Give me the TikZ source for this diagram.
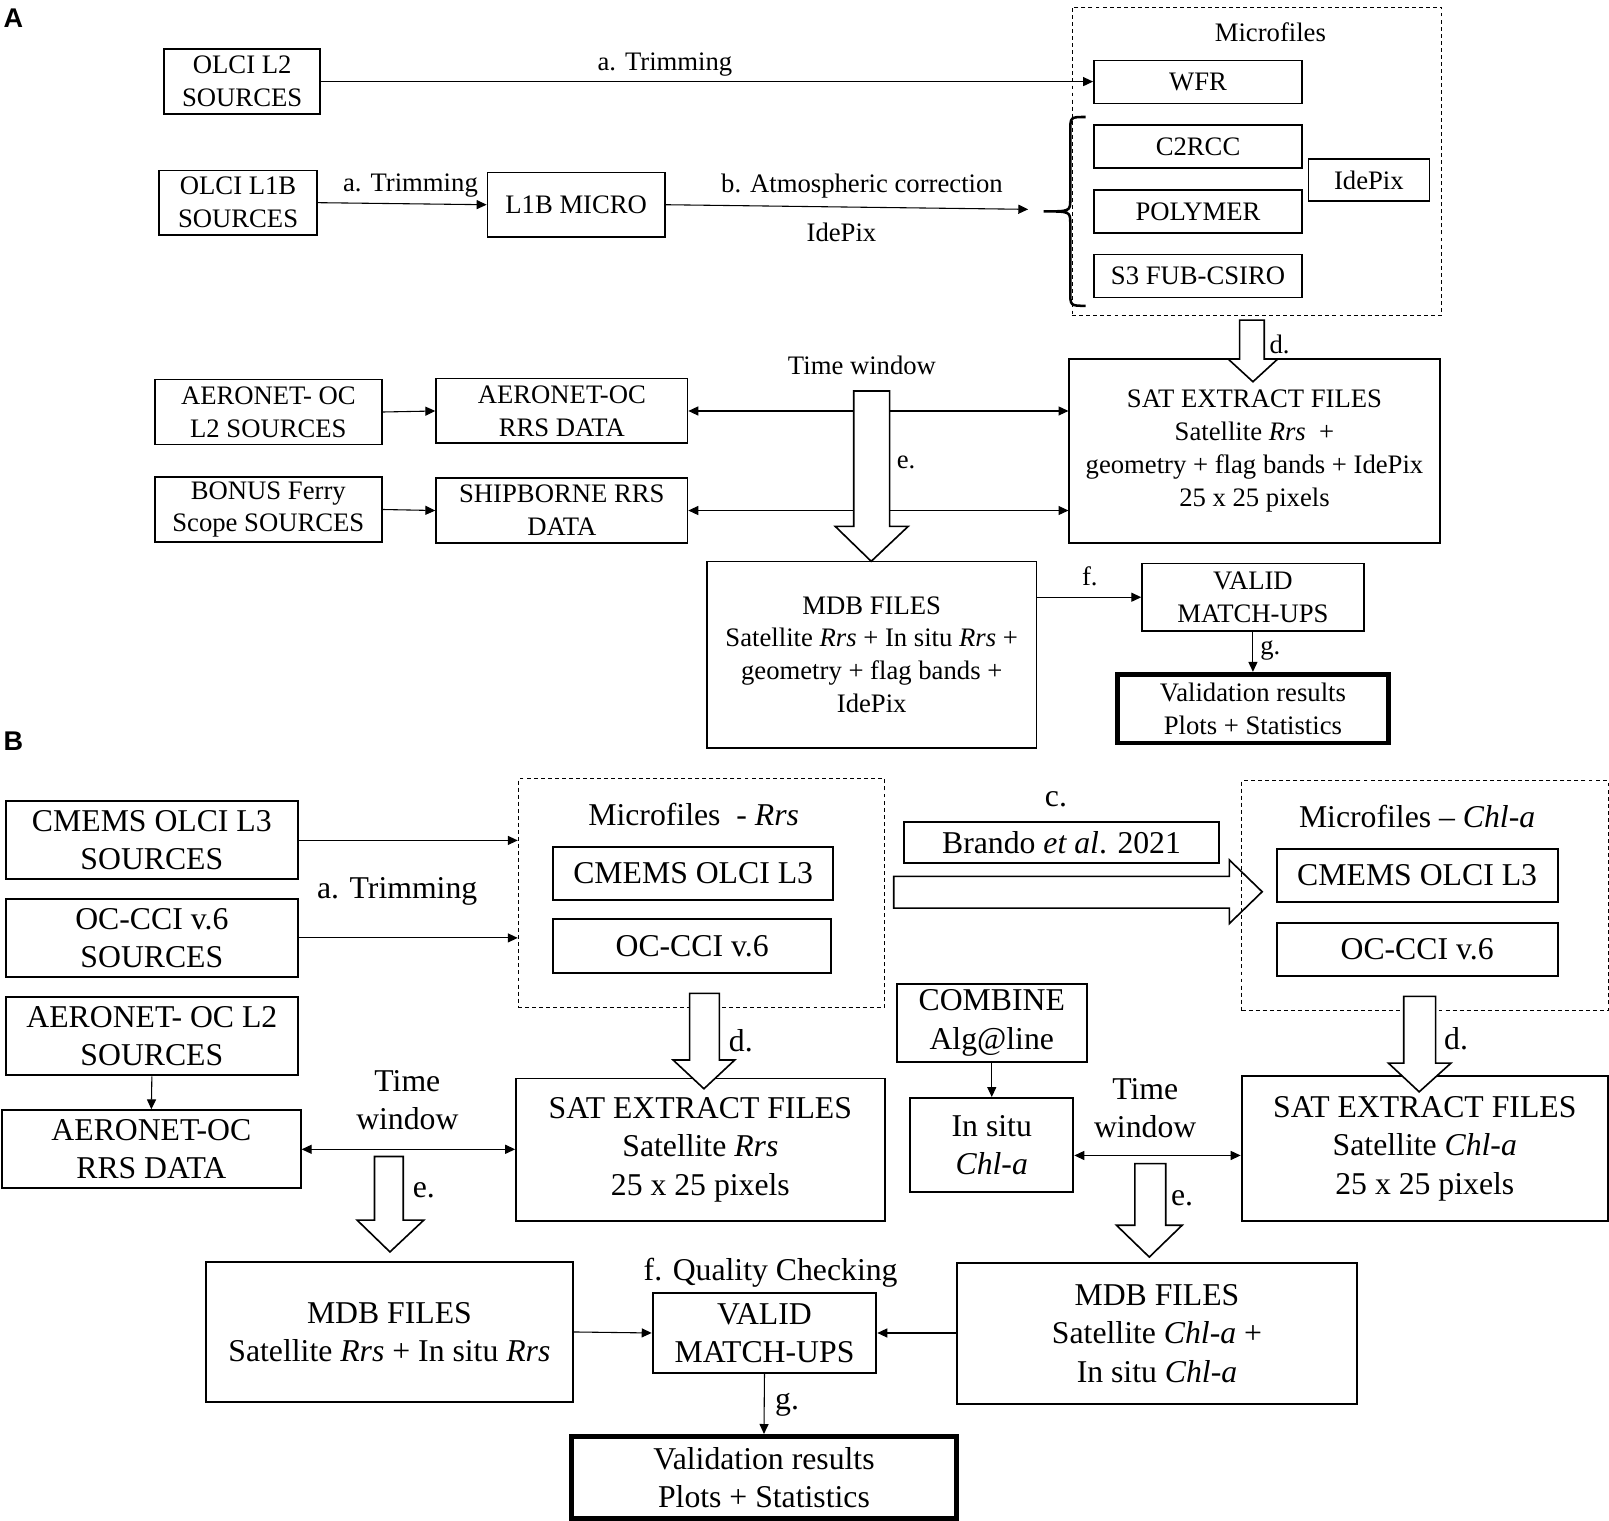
\documentclass[tikz,border=0pt]{standalone}
\usepackage{fontspec}
\setmainfont{Liberation Serif}
\newfontfamily\labfont{Liberation Sans}
\usetikzlibrary{arrows.meta}
\newcommand{\szA}{\fontsize{14.8}{18.2}\selectfont}
\newcommand{\szB}{\fontsize{17.6}{21.3}\selectfont}
\tikzset{
 boxA/.style={draw, line width=0.9pt, inner sep=0pt, align=center, font=\szA},
 boxB/.style={draw, line width=1.1pt, inner sep=0pt, align=center, font=\szB},
 resbox/.style={line width=2.6pt},
 conn/.style={line width=0.6pt, -{Triangle[length=5.5pt,width=5pt]}},
 dconn/.style={line width=0.6pt, {Triangle[length=5.5pt,width=5pt]}-{Triangle[length=5.5pt,width=5pt]}},
 hollow/.style={draw, fill=white, line width=0.9pt, line join=miter},
 dashbox/.style={draw, line width=0.5pt, dash pattern=on 2.2pt off 1.7pt, inner sep=0pt},
 lblA/.style={font=\szA, inner sep=0pt, align=center},
 lblB/.style={font=\szB, inner sep=0pt, align=center},
 panel/.style={font=\labfont\bfseries\fontsize{15}{15}\selectfont, inner sep=0pt}
}
% \mkbox{style}{name}{x1}{y1}{x2}{y2}{text}
\newcommand{\mkbox}[7]{%
 \pgfmathsetmacro\mbcx{(#3+#5)/2}%
 \pgfmathsetmacro\mbcy{(#4+#6)/2}%
 \pgfmathsetmacro\mbw{(#5-#3)*0.02}%
 \pgfmathsetmacro\mbh{(#6-#4)*0.02}%
 \node[#1, minimum width=\mbw cm, minimum height=\mbh cm] (#2) at (\mbcx,\mbcy) {#7};}
\begin{document}
\begin{tikzpicture}[x=0.02cm,y=-0.02cm]
\useasboundingbox (0,0) rectangle (1568,1482);
% ---------------- Panel A ----------------
\node[panel] (pa) at (13,18) {A};
\mkbox{dashbox}{mfA}{1045}{7}{1405}{307}{}
\node[lblA] (mfAt) at (1238,31) {Microfiles};
\mkbox{boxA}{olcil2}{160}{48}{312}{111}{OLCI L2\\SOURCES}
\mkbox{boxA}{olcil1b}{155}{166}{309}{229}{OLCI L1B\\SOURCES}
\mkbox{boxA}{l1b}{475}{168}{648}{231}{L1B MICRO}
\mkbox{boxA}{wfr}{1066}{59}{1269}{101}{WFR}
\mkbox{boxA}{c2rcc}{1066}{122}{1269}{164}{C2RCC}
\mkbox{boxA}{polymer}{1066}{185}{1269}{227}{POLYMER}
\mkbox{boxA}{s3}{1066}{248}{1269}{290}{S3 FUB-CSIRO}
\mkbox{boxA}{idepix}{1275}{155}{1393}{196}{IdePix}
\draw[line width=1.4pt] (1058,114) .. controls (1043,114) and (1043,114) .. (1043,128) -- (1043,194) .. controls (1043,206) and (1043,206) .. (1017,206) .. controls (1043,206) and (1043,206) .. (1043,218) -- (1043,284) .. controls (1043,298) and (1043,298) .. (1058,298);
\coordinate (bend) at (1002,204);
\draw[conn] (olcil2.east) -- (olcil2.east -| wfr.west);
\node[lblA] (ta1) at (648,63) {a. Trimming};
\draw[conn] (olcil1b.east) -- (l1b.west);
\node[lblA] (ta2) at (400,181) {a. Trimming};
\draw[conn] (l1b.east) -- (bend);
\node[lblA] (tb) at (840,181) {b. Atmospheric correction};
\node[lblA] (tidp) at (820,226) {IdePix};
\mkbox{boxA}{satA}{1042}{350}{1403}{529}{SAT EXTRACT FILES\\Satellite \textit{Rrs}\ \ +\\geometry + flag bands + IdePix\\25 x 25 pixels}
\mkbox{boxA}{aerl2}{151}{370}{372}{433}{AERONET- OC\\L2 SOURCES}
\mkbox{boxA}{aerrrs}{425}{369}{670}{432}{AERONET-OC\\RRS DATA}
\mkbox{boxA}{bonus}{151}{465}{372}{528}{BONUS Ferry\\Scope SOURCES}
\mkbox{boxA}{ship}{425}{466}{670}{529}{SHIPBORNE RRS\\DATA}
\draw[conn] (aerl2.east) -- (aerrrs.west);
\draw[conn] (bonus.east) -- (ship.west);
\draw[dconn] (aerrrs.east) -- (aerrrs.east -| satA.west);
\draw[dconn] (ship.east) -- (ship.east -| satA.west);
\node[lblA] (tw) at (840,356) {Time window};
\mkbox{boxA}{mdbA}{689}{547}{1010}{729}{MDB FILES\\Satellite \textit{Rrs} + In situ \textit{Rrs} +\\geometry + flag bands +\\IdePix}
\mkbox{boxA}{validA}{1113}{549}{1329}{615}{VALID\\MATCH-UPS}
\mkbox{boxA,resbox}{resA}{1089}{657}{1353}{724}{Validation results\\Plots + Statistics}
\draw[hollow] (1208,312) -- (1232,312) -- (1232,350) -- (1245,350) -- (1221,372) -- (1197,350) -- (1208,350) -- cycle;
\node[lblA] (tdA) at (1247,336) {d.};
\draw[hollow] (832,381) -- (867,381) -- (867,513) -- (885,513) -- (849,547) -- (814,513) -- (832,513) -- cycle;
\node[lblA] (teA) at (883,451) {e.};
\draw[conn] (mdbA.east |- validA) -- (validA.west);
\node[lblA] (tfA) at (1062,562) {f.};
\draw[conn] (validA.south) -- (resA.north);
\node[lblA] (tgA) at (1238,634) {g.};
% ---------------- Panel B ----------------
\node[panel] (pb) at (13,722) {B};
\mkbox{dashbox}{mfR}{505}{759}{862}{982}{}
\node[lblB] (mfRt) at (676,794) {Microfiles\ \ - \textit{Rrs}};
\mkbox{boxB}{cmemsL}{539}{825}{812}{877}{CMEMS OLCI L3}
\mkbox{boxB}{occciL}{539}{896}{810}{948}{OC-CCI v.6}
\mkbox{boxB}{cmemsS}{6}{781}{290}{857}{CMEMS OLCI L3\\SOURCES}
\mkbox{boxB}{occciS}{6}{876}{290}{952}{OC-CCI v.6\\SOURCES}
\mkbox{boxB}{aerl2B}{6}{972}{290}{1048}{AERONET- OC L2\\SOURCES}
\mkbox{boxB}{aerrrsB}{2}{1082}{293}{1158}{AERONET-OC\\RRS DATA}
\draw[conn] (cmemsS.east) -- (cmemsS.east -| mfR.west);
\draw[conn] (occciS.east) -- (occciS.east -| mfR.west);
\node[lblB] (taB) at (387,869) {a. Trimming};
\draw[conn] (aerl2B.south) -- (aerrrsB.north);
\mkbox{boxB}{satBL}{503}{1051}{862}{1190}{SAT EXTRACT FILES\\Satellite \textit{Rrs}\\25 x 25 pixels}
\draw[dconn] (aerrrsB.east) -- (aerrrsB.east -| satBL.west);
\node[lblB] (twB1) at (397,1072) {Time\\window};
\draw[hollow] (672,968) -- (701,968) -- (701,1033) -- (716,1033) -- (686,1061) -- (656,1033) -- (672,1033) -- cycle;
\node[lblB] (tdBL) at (722,1014) {d.};
\draw[hollow] (365,1127) -- (393,1127) -- (393,1189) -- (413,1189) -- (380,1220) -- (348,1189) -- (365,1189) -- cycle;
\node[lblB] (teBL) at (413,1160) {e.};
\mkbox{boxB}{mdbL}{201}{1230}{558}{1366}{MDB FILES\\Satellite \textit{Rrs} + In situ \textit{Rrs}}
\mkbox{boxB}{validB}{636}{1260}{854}{1338}{VALID\\MATCH-UPS}
\node[lblB] (tfB) at (751,1240) {f. Quality Checking};
\mkbox{boxB,line width=3pt}{resB}{557}{1400}{932}{1480}{Validation results\\Plots + Statistics}
\draw[conn] (mdbL.east) -- (validB.west);
\draw[conn] (validB.south) -- (resB.north);
\node[lblB] (tgB) at (767,1369) {g.};
% right part
\node[lblB] (tc) at (1029,779) {c.};
\mkbox{boxB}{brando}{881}{801}{1188}{841}{Brando \textit{et al}. 2021}
\draw[hollow] (871,854) -- (1198,854) -- (1198,838) -- (1230,869) -- (1198,900) -- (1198,885) -- (871,885) -- cycle;
\mkbox{dashbox}{mfC}{1210}{761}{1567}{985}{}
\node[lblB] (mfCt) at (1381,796) {Microfiles -- \textit{Chl-a}};
\mkbox{boxB}{cmemsR}{1244}{827}{1518}{879}{CMEMS OLCI L3}
\mkbox{boxB}{occciR}{1244}{899}{1518}{951}{OC-CCI v.6}
\mkbox{boxB}{combine}{874}{959}{1059}{1035}{COMBINE\\Alg@line}
\mkbox{boxB}{insitu}{887}{1070}{1046}{1162}{In situ\\\textit{Chl-a}}
\draw[conn] (combine.south) -- (insitu.north);
\mkbox{boxB}{satBR}{1210}{1049}{1567}{1190}{SAT EXTRACT FILES\\Satellite \textit{Chl-a}\\25 x 25 pixels}
\coordinate (tw2) at (1128,1126);
\draw[dconn] (insitu.east |- tw2) -- (satBR.west |- tw2);
\node[lblB] (twB2) at (1116,1080) {Time\\window};
\draw[hollow] (1368,971) -- (1399,971) -- (1399,1036) -- (1414,1036) -- (1383,1064) -- (1353,1036) -- (1368,1036) -- cycle;
\node[lblB] (tdBR) at (1419,1012) {d.};
\draw[hollow] (1106,1134) -- (1136,1134) -- (1136,1194) -- (1152,1194) -- (1120,1225) -- (1088,1194) -- (1106,1194) -- cycle;
\node[lblB] (teBR) at (1152,1168) {e.};
\mkbox{boxB}{mdbR}{933}{1231}{1322}{1368}{MDB FILES\\Satellite \textit{Chl-a} +\\In situ \textit{Chl-a}}
\draw[conn] (mdbR.west |- validB) -- (validB.east);
\end{tikzpicture}
\end{document}
